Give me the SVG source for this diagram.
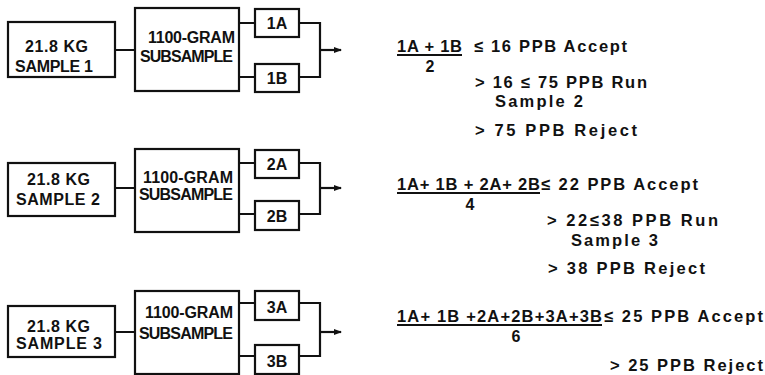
<svg xmlns="http://www.w3.org/2000/svg" width="765" height="375" viewBox="0 0 765 375">
<defs>
<style>
.box{fill:#fff;stroke:#111;stroke-width:2.2}
.ln{fill:none;stroke:#111;stroke-width:2.2}
text{font-family:"Liberation Sans","DejaVu Sans",Arial,sans-serif;font-weight:bold;fill:#111;font-size:16px}
.r{font-size:16.5px}
.d{font-size:16px}
.c{text-anchor:middle}
</style>
<marker id="ah" markerWidth="8" markerHeight="6" refX="7" refY="3" orient="auto" markerUnits="userSpaceOnUse">
<path d="M0,0 L8,3 L0,6 Z" fill="#111"/>
</marker>
</defs>
<rect width="765" height="375" fill="#fff"/>

<g id="connectors">
<path class="ln" d="M115,50 H135 M239,23 H255 M239,77 H255 M299,23 H320 V77 H299" />
<path class="ln" d="M320,50 H341" marker-end="url(#ah)"/>
<path class="ln" d="M115,188 H135 M239,163 H255 M239,214 H255 M299,163 H320 V214 H299" />
<path class="ln" d="M320,188 H341" marker-end="url(#ah)"/>
<path class="ln" d="M115,332 H135 M239,303 H255 M239,356 H255 M299,303 H320 V356 H299" />
<path class="ln" d="M320,332 H341" marker-end="url(#ah)"/>
</g>

<g id="sample1"><rect class="box" x="8" y="22" width="107" height="55"/>
<text x="25" y="52" textLength="63">21.8 KG</text><text x="15" y="72" textLength="78">SAMPLE 1</text></g>
<g id="sub1"><rect class="box" x="135" y="8" width="104" height="83"/>
<text x="148" y="43" textLength="87">1100-GRAM</text><text x="140" y="62" textLength="93">SUBSAMPLE</text></g>
<g id="s1a"><rect class="box" x="255" y="9" width="44" height="28"/><text class="c" x="277" y="29">1A</text></g>
<g id="s1b"><rect class="box" x="255" y="64" width="44" height="28"/><text class="c" x="277" y="84">1B</text></g>

<g id="sample2"><rect class="box" x="8" y="163" width="107" height="53"/>
<text x="27" y="185" textLength="63">21.8 KG</text><text x="16" y="205" textLength="84">SAMPLE 2</text></g>
<g id="sub2"><rect class="box" x="135" y="149" width="104" height="83"/>
<text x="143" y="183" textLength="90">1100-GRAM</text><text x="139" y="200" textLength="94">SUBSAMPLE</text></g>
<g id="s2a"><rect class="box" x="255" y="150" width="44" height="28"/><text class="c" x="277" y="170">2A</text></g>
<g id="s2b"><rect class="box" x="255" y="201" width="44" height="29"/><text class="c" x="277" y="222">2B</text></g>

<g id="sample3"><rect class="box" x="8" y="306" width="107" height="51"/>
<text x="27" y="332" textLength="63">21.8 KG</text><text x="16" y="349" textLength="86">SAMPLE 3</text></g>
<g id="sub3"><rect class="box" x="135" y="291" width="104" height="83"/>
<text x="145" y="318" textLength="88">1100-GRAM</text><text x="139" y="339" textLength="94">SUBSAMPLE</text></g>
<g id="s3a"><rect class="box" x="255" y="291" width="44" height="29"/><text class="c" x="277" y="313">3A</text></g>
<g id="s3b"><rect class="box" x="255" y="345" width="44" height="29"/><text class="c" x="277" y="367">3B</text></g>

<g id="rule1">
<text class="r" x="397" y="52" textLength="65">1A + 1B</text>
<line class="ln" x1="397" y1="55" x2="462" y2="55"/>
<text class="d c" x="430" y="72">2</text>
<text class="r" x="474" y="52" textLength="153">≤ 16 PPB  Accept</text>
<text class="r" x="475" y="88" textLength="172">&gt; 16 ≤ 75 PPB  Run</text>
<text class="r" x="495" y="107" textLength="88">Sample 2</text>
<text class="r" x="475" y="136" textLength="162">&gt; 75 PPB  Reject</text>
</g>

<g id="rule2">
<text class="r" x="397" y="190" textLength="143">1A+ 1B + 2A+ 2B</text>
<line class="ln" x1="397" y1="193" x2="540" y2="193"/>
<text class="d c" x="470" y="210">4</text>
<text class="r" x="541" y="190" textLength="157">≤ 22 PPB  Accept</text>
<text class="r" x="547" y="226" textLength="171">&gt; 22≤38 PPB  Run</text>
<text class="r" x="571" y="246" textLength="87">Sample 3</text>
<text class="r" x="548" y="274" textLength="157">&gt; 38 PPB  Reject</text>
</g>

<g id="rule3">
<text class="r" x="397" y="322" textLength="205">1A+ 1B +2A+2B+3A+3B</text>
<line class="ln" x1="397" y1="325" x2="602" y2="325"/>
<text class="d c" x="516" y="342">6</text>
<text class="r" x="604" y="322" textLength="159">≤ 25 PPB  Accept</text>
<text class="r" x="610" y="371" textLength="153">&gt; 25 PPB  Reject</text>
</g>
</svg>
